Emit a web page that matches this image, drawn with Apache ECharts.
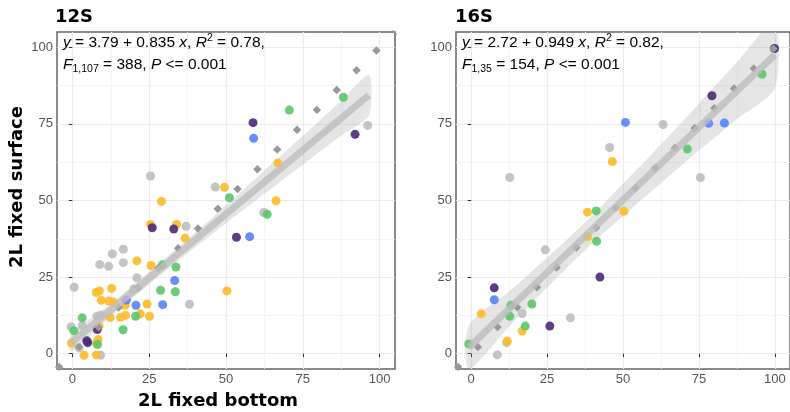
<!DOCTYPE html>
<html><head><meta charset="utf-8">
<script src="https://cdn.jsdelivr.net/npm/echarts@6/dist/echarts.min.js"></script>
<style>html,body{margin:0;padding:0;background:#fff}#c{width:790px;height:412px}</style>
</head><body><div id="c"></div>
<script>
// ---------- data ----------
const tickValues = [0, 25, 50, 75, 100];
const minorValues = [12.5, 37.5, 62.5, 87.5];
const panelTitles = ['12S', '16S'];
const xTitle = '2L fixed bottom';
const yTitle = '2L fixed surface';
const eq12 = ['{i|y} = 3.79 + 0.835 {i|x}, {i|R}{sup|2} = 0.78,', '{i|F}{sub|1,107} = 388, {i|P} <= 0.001'];
const eq16 = ['{i|y} = 2.72 + 0.949 {i|x}, {i|R}{sup|2} = 0.82,', '{i|F}{sub|1,35} = 154, {i|P} <= 0.001'];

// 12S points [bottom, surface]
const grey12 = [[25.4,58.0],[46.5,54.4],[62.3,46.1],[96.1,74.5],[37.0,41.6],[13.0,32.6],[16.6,34.1],[16.6,29.7],[8.9,29.1],[11.8,28.5],[21.0,24.8],[0.6,21.7],[20.0,21.1],[38.1,16.1],[8.0,12.2],[9.2,12.6],[-0.4,8.8],[3.2,9.2],[2.2,1.9],[9.2,-0.5]];
const yellow12 = [[66.9,62.2],[49.5,54.3],[29.0,49.7],[66.3,49.9],[25.4,42.2],[33.9,42.2],[36.7,37.7],[21.0,30.3],[25.6,28.8],[7.8,20.0],[8.8,20.5],[12.8,21.3],[9.4,17.4],[11.9,17.2],[13.3,16.9],[17.2,15.8],[24.3,16.2],[50.3,20.5],[22.1,13.0],[25.1,12.2],[15.7,11.9],[17.3,12.5],[12.3,11.8],[8.7,9.0],[-0.3,3.5],[8.4,4.6],[7.9,3.4],[3.8,-0.5],[7.8,-0.4]];
const green12 = [[70.6,79.5],[88.2,83.7],[51.1,50.9],[63.4,45.5],[29.3,29.0],[33.7,28.3],[28.7,20.7],[33.5,20.2],[20.6,12.2],[16.5,7.8],[3.2,11.7],[0.5,7.5],[8.2,3.0]];
const blue12 = [[59.0,70.3],[57.7,38.2],[33.3,23.9],[20.7,15.8],[29.4,16.0],[17.6,17.5]];
const purple12 = [[58.8,75.4],[92.0,71.6],[26.0,41.1],[33.0,40.7],[53.4,38.0],[8.1,7.9],[4.7,4.2],[5.0,3.6]];

// 16S points
const grey16 = [[63.2,74.8],[45.6,67.3],[12.7,57.5],[75.5,57.5],[24.4,33.9],[16.8,13.1],[32.7,11.7],[11.7,3.6],[8.6,-0.4]];
const yellow16 = [[46.5,62.7],[38.3,46.2],[50.3,46.5],[38.3,38.2],[3.3,13.0],[16.8,7.4],[11.9,4.1]];
const green16 = [[95.8,91.2],[71.2,66.8],[41.2,46.6],[41.3,36.7],[20.0,16.2],[13.1,15.8],[12.7,12.2],[17.8,9.0],[-0.8,3.2]];
const blue16 = [[50.8,75.5],[78.2,75.2],[83.4,75.3],[7.6,17.6]];
const purple16 = [[99.9,99.6],[79.3,84.2],[42.4,25.0],[7.6,21.5],[25.9,9.0]];

// fitted lines and confidence bands
const fitLine12 = [[-0.4,3.5],[96.5,84.4]];
const bandX12 = [-0.4, 12.5, 25, 37.5, 50, 62.5, 75, 87.5, 96.5];
const bandLo12 = [0.7, 12.1, 22.7, 32.8, 42.6, 52.2, 61.7, 71.2, 77.8];
const bandHi12 = [6.3, 16.3, 26.7, 37.4, 48.4, 59.8, 71.1, 82.6, 91.0];
const fitLine16 = [[-0.8,2.0],[100,97.6]];
const bandX16 = [-0.8, 12.5, 25, 37.5, 50, 62.5, 75, 87.5, 100];
const bandLo16 = [-5.0, 8.9, 21.6, 33.8, 44.9, 55.7, 66.2, 76.5, 86.6];
const bandHi16 = [9.2, 20.3, 31.3, 42.8, 55.5, 68.3, 81.6, 95.1, 108.6];
const identity = [[-5,-5],[105,105]];

// ---------- chart ----------
const colors = {grey:'#BFBFBF', yellow:'#FDBC2C', green:'#5EC86C', blue:'#5A86F8', purple:'#4F2C7A'};
const grids = [
  {left:57, top:32, width:338, height:337},
  {left:456, top:32, width:339, height:337}
];
function axis(gi){
  return {
    gridIndex: gi, type:'value', min:-5, max:105, minInterval:25, maxInterval:25,
    axisLine:{show:false},
    axisTick:{show:true, length:3.5, customValues: tickValues, lineStyle:{color:'#333', width:1}},
    axisLabel:{customValues: tickValues, color:'#555', fontSize:13, fontFamily:'Liberation Sans', margin:4},
    splitLine:{show:true, lineStyle:{color:'#EBEBEB', width:1.2}}
  };
}
function bandRender(params, api){
  if (params.dataIndexInside !== 0) return null;
  const n = params.dataInsideLength;
  const upper = [], lower = [];
  for (let i = 0; i < n; i++){
    upper.push(api.coord([api.value(0,i), api.value(2,i)]));
    lower.unshift(api.coord([api.value(0,i), api.value(1,i)]));
  }
  const cs = params.coordSys;
  return {
    type:'group',
    children:[{
      type:'polygon',
      shape:{points: upper.concat(lower), smooth:0.25},
      style:{fill:'rgba(153,153,153,0.25)', stroke:null}
    }],
    clipPath:{type:'rect', shape:{x:cs.x, y:cs.y, width:cs.width, height:cs.height}}
  };
}
const series = [];
function addPanel(gi, groups, line, bx, blo, bhi){
  series.push({type:'line', xAxisIndex:gi, yAxisIndex:gi, data:[], silent:true,
    markLine:{silent:true, symbol:'none', z:0, label:{show:false}, lineStyle:{color:'#F2F2F2', width:0.8, type:'solid'},
      data: minorValues.map(v=>({xAxis:v})).concat(minorValues.map(v=>({yAxis:v})))}});
  groups.forEach(g=>{
    series.push({type:'scatter', xAxisIndex:gi, yAxisIndex:gi, data:g[0], symbolSize:9, silent:true,
      itemStyle:{color:colors[g[1]], opacity:0.92}});
  });
  series.push({type:'line', xAxisIndex:gi, yAxisIndex:gi, data:identity, showSymbol:false, silent:true,
    lineStyle:{color:'#999999', width:6, type:[6,22], cap:'butt'}});
  series.push({type:'custom', xAxisIndex:gi, yAxisIndex:gi, silent:true,
    data: bx.map((x,i)=>[x, blo[i], bhi[i]]), encode:{x:0, y:[1,2]}, renderItem: bandRender});
  series.push({type:'line', xAxisIndex:gi, yAxisIndex:gi, data:line, showSymbol:false, silent:true,
    lineStyle:{color:'rgba(190,190,190,0.8)', width:7, cap:'butt'}});
}
addPanel(0, [[grey12,'grey'],[yellow12,'yellow'],[green12,'green'],[blue12,'blue'],[purple12,'purple']], fitLine12, bandX12, bandLo12, bandHi12);
addPanel(1, [[grey16,'grey'],[yellow16,'yellow'],[green16,'green'],[blue16,'blue'],[purple16,'purple']], fitLine16, bandX16, bandLo16, bandHi16);

const FS = 15.5;
const richStyle = {
  i:{fontStyle:'italic', fontSize:FS, fontFamily:'Liberation Sans', lineHeight:20, fill:'#000'},
  sup:{fontSize:10.5, fontFamily:'Liberation Sans', lineHeight:12, verticalAlign:'top', fill:'#000'},
  sub:{fontSize:10.5, fontFamily:'Liberation Sans', lineHeight:12, verticalAlign:'bottom', fill:'#000'}
};
function eqText(x, y, t){
  return {type:'text', left:x, top:y, z:10, style:{text:t, rich:richStyle, fontSize:FS, fontFamily:'Liberation Sans', lineHeight:20, fill:'#000'}};
}
const titleFont = {fontSize:18, fontWeight:'bold', fontFamily:'DejaVu Sans', fill:'#000'};
const graphic = [
  {type:'text', left:55, top:8, style:Object.assign({text:panelTitles[0]}, titleFont)},
  {type:'text', left:455, top:8, style:Object.assign({text:panelTitles[1]}, titleFont)},
  {type:'text', x:218, y:401, style:Object.assign({text:xTitle, align:'center', verticalAlign:'middle'}, titleFont)},
  {type:'text', x:17, y:187, rotation:Math.PI/2, style:Object.assign({text:yTitle, align:'center', verticalAlign:'middle'}, titleFont)},
  eqText(63, 33, eq12[0]), eqText(63, 55, eq12[1]),
  eqText(462, 33, eq16[0]), eqText(462, 55, eq16[1])
];

const chart = echarts.init(document.getElementById('c'), null, {renderer:'canvas'});
chart.setOption({
  animation:false,
  grid: grids.map(g=>Object.assign({show:true, borderColor:'#666', borderWidth:1.5, backgroundColor:'transparent'}, g)),
  xAxis: [axis(0), axis(1)],
  yAxis: [axis(0), axis(1)],
  series: series,
  graphic: graphic
});
</script></body></html>
